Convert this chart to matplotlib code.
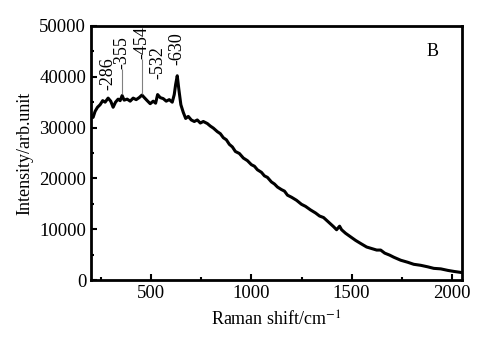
import matplotlib
matplotlib.use("Agg")
import matplotlib.pyplot as plt
from matplotlib.ticker import MultipleLocator

plt.rcParams["font.family"] = ["Liberation Serif", "DejaVu Serif"]
plt.rcParams["mathtext.fontset"] = "stix"

# spectrum
shift = [200, 210, 220, 232, 245, 258, 270, 285, 298, 310, 322, 335, 345, 355,
         365, 380, 395, 410, 425, 440, 454, 468, 480, 495, 510, 522, 532, 545,
         560, 575, 590, 605, 615, 622, 630, 638, 648, 660, 672, 685, 700, 715,
         730, 745, 760, 780, 795, 810, 830, 845, 860, 875, 890, 905, 920, 940,
         960, 980, 1000, 1015, 1030, 1050, 1065, 1080, 1100, 1115, 1130, 1150,
         1165, 1180, 1200, 1225, 1250, 1270, 1295, 1320, 1340, 1360, 1385, 1410,
         1425, 1440, 1450, 1470, 1495, 1520, 1545, 1575, 1600, 1625, 1645, 1665,
         1690, 1710, 1745, 1780, 1810, 1845, 1880, 1910, 1945, 1980, 2010, 2045]
intensity = [32500, 32000, 33200, 34000, 34500, 35300, 35000, 35800, 35200, 34000,
             35000, 35600, 35300, 36300, 35400, 35600, 35200, 35800, 35500, 35900,
             36400, 35800, 35300, 34700, 35200, 34800, 36500, 35900, 35700, 35200,
             35500, 35000, 36500, 38500, 40200, 37500, 34500, 33000, 31800, 32200,
             31500, 31200, 31500, 30900, 31200, 30800, 30300, 29900, 29200, 28800,
             28000, 27600, 26700, 26200, 25300, 24900, 24000, 23500, 22700, 22400,
             21700, 21200, 20500, 20200, 19300, 18900, 18300, 17800, 17500, 16700,
             16300, 15700, 14900, 14500, 13800, 13200, 12600, 12300, 11400, 10500,
             9900, 10600, 9900, 9200, 8500, 7800, 7200, 6500, 6200, 5900,
             5900, 5300, 4900, 4500, 3900, 3500, 3100, 2900, 2600, 2300,
             2200, 1900, 1700, 1500]

peak_labels = ["286", "355", "454", "532", "630"]
peak_x = [286, 355, 454, 532, 630]
label_y = [37300, 41500, 43500, 39500, 42300]

fig = plt.figure(figsize=(4.95, 3.37), dpi=100)
ax = fig.add_axes([0.184, 0.169, 0.749, 0.754])

ax.plot(shift, intensity, color="black", lw=2.2)

for lab, px, py in zip(peak_labels, peak_x, label_y):
    ax.text(px, py, "-" + lab, rotation=90, ha="center", va="bottom", fontsize=13)
# thin guide lines for 355 and 454
ax.vlines([355, 454], [36600, 36700], [41500, 43500], color="0.5", lw=0.8)

ax.text(1905, 44900, "B", fontsize=13, ha="center", va="center")

ax.set_xlim(200, 2050)
ax.set_ylim(0, 50000)
ax.xaxis.set_major_locator(MultipleLocator(500))
ax.xaxis.set_minor_locator(MultipleLocator(250))
ax.yaxis.set_major_locator(MultipleLocator(10000))
ax.yaxis.set_minor_locator(MultipleLocator(5000))
ax.tick_params(which="both", direction="in", labelsize=13.5, width=1.5)
ax.tick_params(which="major", length=4)
ax.tick_params(which="minor", length=2.5)
for sp in ax.spines.values():
    sp.set_linewidth(2)

ax.set_xlabel("Raman shift/cm$^{-1}$", fontsize=13, labelpad=6)
ax.set_ylabel("Intensity/arb.unit", fontsize=13, labelpad=4)

fig.savefig("out.png", dpi=100)
